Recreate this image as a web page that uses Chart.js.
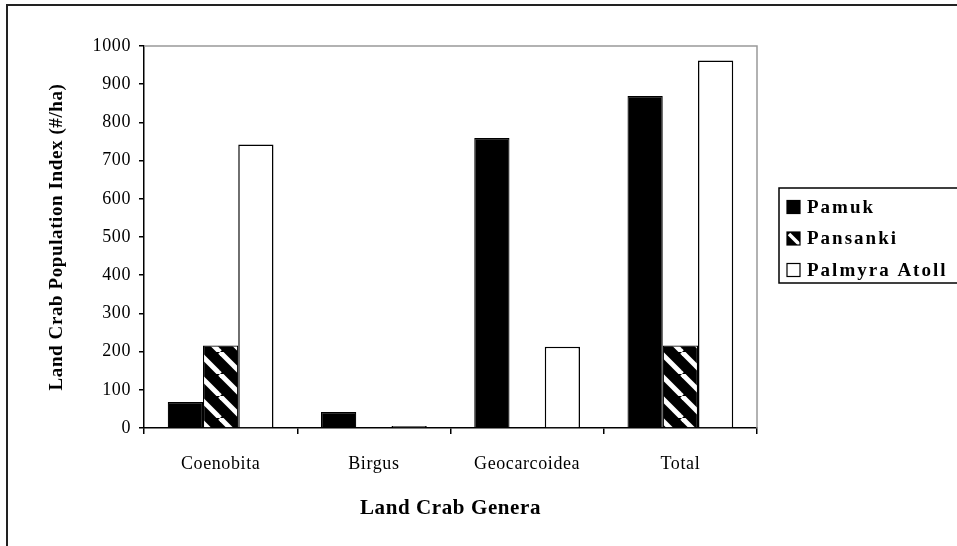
<!DOCTYPE html>
<html><head><meta charset="utf-8">
<style>html,body{margin:0;padding:0;background:#fff;}#wrap{position:relative;width:957px;height:546px;}</style>
<script src="https://cdn.jsdelivr.net/npm/chart.js@4.4.1/dist/chart.umd.min.js"></script>
</head><body><div id="wrap"><canvas id="c" width="957" height="546"></canvas></div>
<script>
const categories = ['Coenobita', 'Birgus', 'Geocarcoidea', 'Total'];
const seriesNames = ['Pamuk', 'Pansanki', 'Palmyra Atoll'];
const pamukValues = [68, 42, 759, 869];
const pansankiValues = [216, 0, 0, 216];
const palmyraValues = [742, 5, 213, 962];
const yTickValues = [0, 100, 200, 300, 400, 500, 600, 700, 800, 900, 1000];
const xAxisTitle = 'Land Crab Genera';
const yAxisTitle = 'Land Crab Population Index (#/ha)';

const SERIF = "'Liberation Serif', 'Times New Roman', serif";

function makeStripe(ctx) {
  const n = 22;
  const p = document.createElement('canvas');
  p.width = n; p.height = n;
  const g = p.getContext('2d');
  g.fillStyle = '#000'; g.fillRect(0, 0, n, n);
  g.strokeStyle = '#fff'; g.lineWidth = 5;
  for (const o of [-n, 0, n]) {
    g.beginPath(); g.moveTo(o, 0); g.lineTo(o + n, n); g.stroke();
  }
  return ctx.createPattern(p, 'repeat');
}

const canvas = document.getElementById('c');
const ctx0 = canvas.getContext('2d');
const stripe = makeStripe(ctx0);
const fills = ['#000000', stripe, '#ffffff'];

function setSpacing(c, v) { if ('letterSpacing' in c) c.letterSpacing = v; }

const decor = {
  id: 'decor',
  beforeUpdate(chart) { setSpacing(chart.ctx, '0.6px'); },
  beforeLayout(chart) { setSpacing(chart.ctx, '0.6px'); },
  beforeDraw(chart) {
    const c = chart.ctx;
    setSpacing(c, '0.6px');
    c.save();
    c.fillStyle = '#fff';
    c.fillRect(0, 0, chart.width, chart.height);
    c.restore();
  },
  afterDraw(chart) {
    const c = chart.ctx;
    const a = chart.chartArea;
    c.save();
    // outer frame
    c.strokeStyle = '#222'; c.lineWidth = 2;
    c.beginPath(); c.moveTo(7, chart.height + 5); c.lineTo(7, 5); c.lineTo(chart.width + 5, 5); c.stroke();
    // plot border top/right
    c.strokeStyle = '#999'; c.lineWidth = 1.5;
    c.beginPath(); c.moveTo(a.left, a.top); c.lineTo(a.right, a.top); c.lineTo(a.right, a.bottom); c.stroke();
    // legend
    const lx = 779, ly = 188, lh = 95;
    c.strokeStyle = '#000'; c.lineWidth = 1.5;
    c.strokeRect(lx, ly, chart.width + 10 - lx, lh);
    c.font = "bold 19px " + SERIF;
    c.textBaseline = 'middle';
    setSpacing(c, '2px');
    chart.data.datasets.forEach((d, i) => {
      const cy = ly + 19 + i * 31.5;
      const sx = 787, s = 13, sy = cy - s / 2;
      if (d.backgroundColor === stripe) {
        c.fillStyle = '#000';
        c.fillRect(sx, sy, s, s);
        c.save();
        c.beginPath(); c.rect(sx, sy, s, s); c.clip();
        c.strokeStyle = '#fff'; c.lineWidth = 3.5;
        c.beginPath(); c.moveTo(sx + 2, sy + 2); c.lineTo(sx + s, sy + s); c.stroke();
        c.restore();
      } else {
        c.fillStyle = d.backgroundColor;
        c.fillRect(sx, sy, s, s);
      }
      c.strokeStyle = '#000'; c.lineWidth = 1.2;
      c.strokeRect(sx, sy, s, s);
      c.fillStyle = '#000';
      c.fillText(d.label, 807, cy + 1);
    });
    c.restore();
  }
};

new Chart(canvas, {
  type: 'bar',
  data: {
    labels: categories,
    datasets: [
      { label: seriesNames[0], data: pamukValues, backgroundColor: fills[0], borderColor: '#000', borderWidth: 1.2 },
      { label: seriesNames[1], data: pansankiValues, backgroundColor: fills[1], borderColor: '#000', borderWidth: 1.2 },
      { label: seriesNames[2], data: palmyraValues, backgroundColor: fills[2], borderColor: '#000', borderWidth: 1.5 }
    ]
  },
  options: {
    responsive: false,
    animation: false,
    devicePixelRatio: 1,
    layout: { padding: { left: 36, top: 46, right: 200, bottom: 25 } },
    datasets: { bar: { categoryPercentage: 0.69, barPercentage: 1.0, borderSkipped: 'start' } },
    plugins: { legend: { display: false }, tooltip: { enabled: false } },
    scales: {
      x: {
        grid: { display: true, drawOnChartArea: false, drawTicks: true, tickLength: 6, color: '#000', lineWidth: 1.5, offset: true },
        border: { display: true, color: '#000', width: 1.5 },
        ticks: { color: '#000', font: { family: SERIF, size: 18 }, padding: 19, maxRotation: 0 },
        title: { display: true, text: xAxisTitle, color: '#000', font: { family: SERIF, size: 21, weight: 'bold' }, padding: { top: 0, bottom: 0 } },
        afterFit(scale) { scale.height = 93; }
      },
      y: {
        min: 0, max: 1000,
        afterBuildTicks(scale) { scale.ticks = yTickValues.map(v => ({ value: v })); },
        grid: { display: true, drawOnChartArea: false, drawTicks: true, tickLength: 5, color: '#000', lineWidth: 1.5 },
        border: { display: true, color: '#000', width: 1.5 },
        ticks: { color: '#000', font: { family: SERIF, size: 18 }, padding: 8, callback: v => String(v) },
        title: { display: true, text: yAxisTitle, color: '#000', font: { family: SERIF, size: 19, weight: 'bold' }, padding: { top: 10, bottom: 0 } },
        afterFit(scale) { scale.width = 108; }
      }
    }
  },
  plugins: [decor]
});
</script>
</body></html>
